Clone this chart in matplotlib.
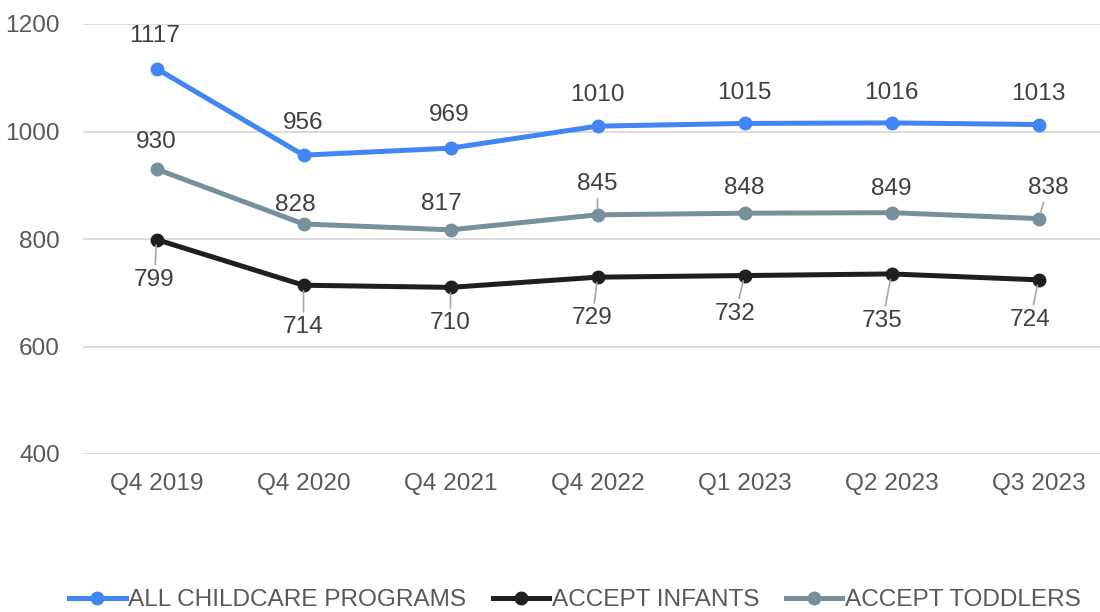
import matplotlib
matplotlib.use("Agg")
import matplotlib.pyplot as plt

categories = ["Q4 2019", "Q4 2020", "Q4 2021", "Q4 2022", "Q1 2023", "Q2 2023", "Q3 2023"]
all_programs = [1117, 956, 969, 1010, 1015, 1016, 1013]
infants = [799, 714, 710, 729, 732, 735, 724]
toddlers = [930, 828, 817, 845, 848, 849, 838]
y_ticks = [400, 600, 800, 1000, 1200]

plt.rcParams['font.family'] = ['Liberation Sans', 'DejaVu Sans']
FS = 17.6

fig = plt.figure(figsize=(11, 6.12), dpi=100)
W, H = 1100, 612
ax = fig.add_axes([83 / W, 1 - 454 / H, (1100 - 83) / W, (454 - 24) / H])

x = list(range(len(categories)))
c_blue, c_black, c_gray = "#4285F4", "#1F1F1F", "#78909C"
lw, ms = 3.6, 9

ax.plot(x, all_programs, color=c_blue, lw=lw, marker='o', ms=ms, label="ALL CHILDCARE PROGRAMS", zorder=3)
ax.plot(x, infants, color=c_black, lw=lw, marker='o', ms=ms, label="ACCEPT INFANTS", zorder=3)
ax.plot(x, toddlers, color=c_gray, lw=lw, marker='o', ms=ms, label="ACCEPT TODDLERS", zorder=3)

ax.set_xlim(-0.5, -0.5 + (1100 - 83) / 147.0)
ax.set_ylim(400, 1200)
ax.set_yticks(y_ticks)
ax.set_xticks(x)
ax.set_xticklabels(categories)
ax.grid(axis='y', color='#D9D9D9', lw=1.3)
ax.set_axisbelow(True)
for s in ax.spines.values():
    s.set_visible(False)
ax.tick_params(length=0, labelsize=FS, colors='#595959')
ax.tick_params(axis='x', pad=13.5)
ax.tick_params(axis='y', pad=16.5)

lbl_col = '#404040'
lead = dict(arrowstyle='-', color='#A6A6A6', lw=1.2, shrinkA=1, shrinkB=4)

blue_off = [(-2, 33), (0, 32), (-1, 33), (0, 31), (0, 30), (0, 30), (0, 31)]
gray_off = [(0, 27), (-8, 19), (-9, 26), (0, 31), (0, 25), (0, 24), (10, 31)]
gray_lead = [False, False, False, True, False, False, True]
black_off = [(-2, -40), (0, -42), (0, -36), (-5, -41), (-9, -38), (-9, -47), (-8, -40)]

for i, v in enumerate(all_programs):
    ax.annotate(str(v), (i, v), xytext=blue_off[i], textcoords='offset pixels',
                ha='center', va='center', fontsize=FS, color=lbl_col)
for i, v in enumerate(toddlers):
    ax.annotate(str(v), (i, v), xytext=gray_off[i], textcoords='offset pixels',
                ha='center', va='center', fontsize=FS, color=lbl_col,
                arrowprops=lead if gray_lead[i] else None)
for i, v in enumerate(infants):
    ax.annotate(str(v), (i, v), xytext=black_off[i], textcoords='offset pixels',
                ha='center', va='center', fontsize=FS, color=lbl_col, arrowprops=lead)

leg = fig.legend(loc='center', bbox_to_anchor=(575 / W, 1 - 600 / H), ncol=3, frameon=False,
                 fontsize=FS, handlelength=2.3, handletextpad=0.1, columnspacing=1.1,
                 labelcolor='#595959')

fig.savefig("out.png", dpi=100)
